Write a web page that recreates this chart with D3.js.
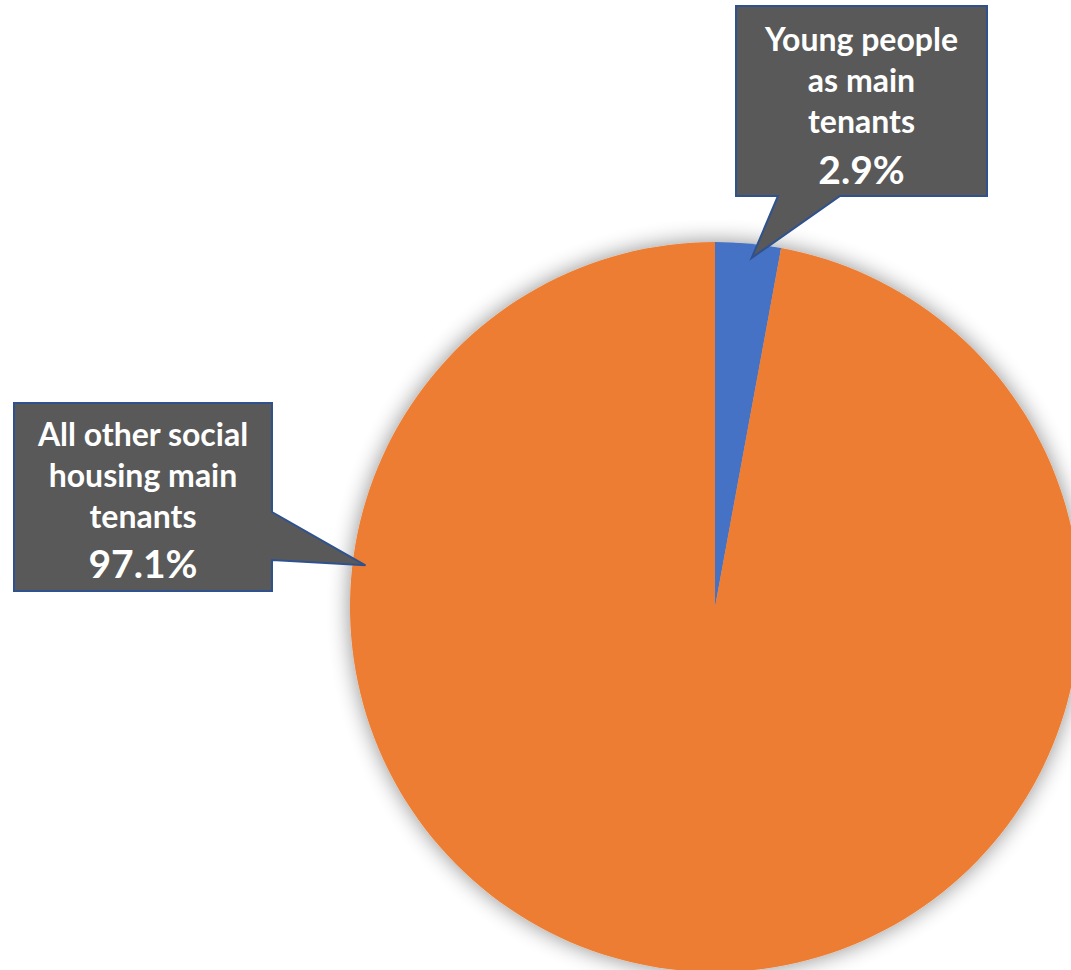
<!DOCTYPE html>
<html>
<head>
<meta charset="utf-8">
<script src="https://cdn.jsdelivr.net/npm/d3@7"></script>
<style>
  body { margin: 0; background: #fff; }
  svg { display: block; }
  .lbl { font-family: Lato, "Open Sans", sans-serif; font-weight: bold; fill: #fff; text-anchor: middle; }
</style>
</head>
<body>
<div id="chart"></div>
<script>
var categories = ["Young people as main tenants", "All other social housing main tenants"];
var values = [2.9, 97.1];
var labelLines = [["Young people", "as main", "tenants"], ["All other social", "housing main", "tenants"]];
var colors = ["#4472C4", "#ED7D31"];

var width = 1071, height = 970,
    cx = 715, cy = 607, radius = 365;

// callout boxes: box rect, pointer base on box edge, tip angle / radius on the pie
var callouts = [
  { x: 736, y: 6, w: 251, h: 190, base: [[778, 196], [840, 196]], tipAngle: 6, tipR: 351, y0: 51, dy: 41, pctY: 184 },
  { x: 14, y: 403, w: 258, h: 188, base: [[272, 512], [272, 560]], tipAngle: 276.8, tipR: 352, y0: 446, dy: 41, pctY: 578 }
];

var svg = d3.select("#chart").append("svg")
    .attr("width", width)
    .attr("height", height);

var defs = svg.append("defs");
var f = defs.append("filter").attr("id", "shadow")
    .attr("x", "-20%").attr("y", "-20%").attr("width", "140%").attr("height", "140%");
f.append("feGaussianBlur").attr("in", "SourceAlpha").attr("stdDeviation", 11).attr("result", "b");
f.append("feOffset").attr("in", "b").attr("dx", 0).attr("dy", 0).attr("result", "o");
f.append("feComponentTransfer").attr("in", "o").attr("result", "s")
  .append("feFuncA").attr("type", "linear").attr("slope", 0.45);
var m = f.append("feMerge");
m.append("feMergeNode").attr("in", "s");
m.append("feMergeNode").attr("in", "SourceGraphic");

var pie = d3.pie().sort(null).value(function(d) { return d; });
var arc = d3.arc().innerRadius(0).outerRadius(radius);

var g = svg.append("g")
    .attr("transform", "translate(" + cx + "," + cy + ")")
    .attr("filter", "url(#shadow)");

g.selectAll("path")
    .data(pie(values))
    .enter().append("path")
      .attr("d", arc)
      .style("fill", function(d, i) { return colors[i]; });

callouts.forEach(function(c, i) {
  var a = c.tipAngle * Math.PI / 180;
  var tip = [cx + c.tipR * Math.sin(a), cy - c.tipR * Math.cos(a)];
  var pts;
  if (i == 0) {
    pts = [[c.x, c.y], [c.x + c.w, c.y], [c.x + c.w, c.y + c.h], c.base[1], tip, c.base[0], [c.x, c.y + c.h]];
  } else {
    pts = [[c.x, c.y], [c.x + c.w, c.y], c.base[0], tip, c.base[1], [c.x + c.w, c.y + c.h], [c.x, c.y + c.h]];
  }
  svg.append("path")
      .attr("d", d3.line()(pts) + "Z")
      .style("fill", "#595959")
      .style("stroke", "#2F528F")
      .style("stroke-width", 2)
      .style("stroke-linejoin", "miter");

  var mx = c.x + c.w / 2;
  labelLines[i].forEach(function(t, j) {
    svg.append("text")
        .attr("class", "lbl")
        .attr("x", mx)
        .attr("y", c.y0 + j * c.dy)
        .style("font-size", "32px")
        .text(t);
  });
  svg.append("text")
      .attr("class", "lbl")
      .attr("x", mx)
      .attr("y", c.pctY)
      .style("font-size", "39px")
      .text(values[i].toFixed(1) + "%");
});
</script>
</body>
</html>
